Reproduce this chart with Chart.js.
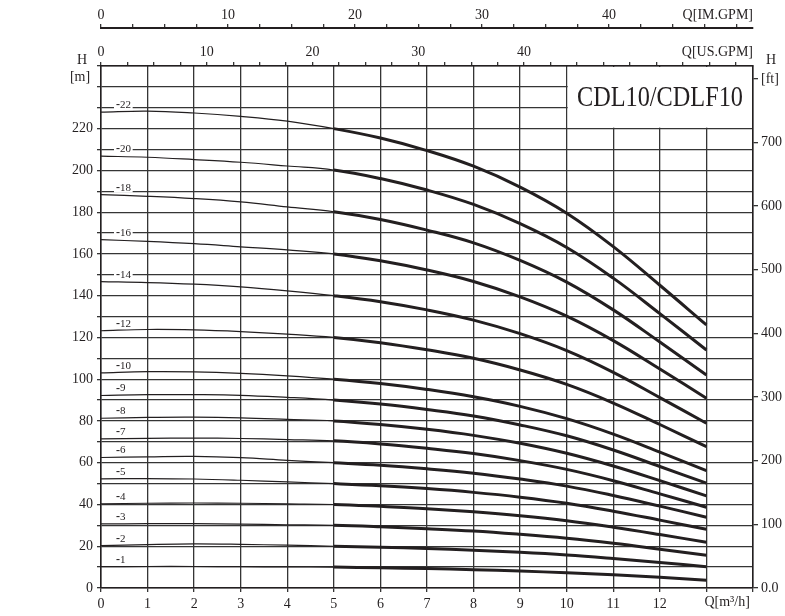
<!DOCTYPE html>
<html>
<head>
<meta charset="utf-8">
<script src="https://cdn.jsdelivr.net/npm/chart.js@4.4.1/dist/chart.umd.min.js"></script>
<style>
  body { margin: 0; background: #fff; }
  #wrap { width: 785px; height: 616px; }
</style>
</head>
<body>
<div id="wrap"><canvas id="pumpChart"></canvas></div>
<script>
// flow points, m3/h
var flow = [0, 1, 2, 3, 4, 5, 6, 7, 8, 9, 10, 11, 12, 13];

// head in m for each stage count
var head1  = [10.2, 10.3, 10.3, 10.2, 10.1, 10, 9.7, 9.3, 8.8, 8.1, 7.3, 6.3, 5.1, 3.7];
var head2  = [20.3, 20.8, 21.1, 20.9, 20.5, 20, 19.5, 18.9, 18.1, 17.1, 15.8, 14.1, 12.2, 10.2];
var head3  = [30.7, 30.8, 30.8, 30.6, 30.3, 30, 29.3, 28.4, 27.3, 25.7, 23.8, 21.4, 18.6, 15.7];
var head4  = [40.3, 40.6, 40.7, 40.6, 40.3, 40, 39.1, 38, 36.5, 34.6, 32.2, 29.1, 25.6, 21.9];
var head5  = [52.3, 52.4, 52.2, 51.6, 50.8, 50, 49, 47.6, 45.8, 43.5, 40.6, 36.8, 32.5, 28.1];
var head6  = [62.5, 62.8, 63, 62.4, 61.1, 60, 58.8, 57.1, 55, 52.2, 48.8, 44.3, 39.2, 33.9];
var head7  = [71.4, 71.7, 71.8, 71.6, 71.1, 70.5, 69, 66.9, 64.4, 61, 56.8, 51.4, 45.1, 38.7];
var head8  = [81.3, 81.7, 81.8, 81.5, 80.8, 80, 78.3, 76, 73.1, 69.3, 64.5, 58.4, 51.4, 44.1];
var head9  = [92.2, 92.6, 92.6, 92.3, 91.3, 90, 88.1, 85.5, 82.4, 78.1, 72.9, 66.1, 58.2, 50.2];
var head10 = [103, 103.6, 103.5, 102.8, 101.6, 100, 97.9, 95.1, 91.6, 87, 81.1, 73.7, 65.1, 56.2];
var head12 = [123.2, 123.8, 123.6, 122.8, 121.6, 120, 117.5, 114.1, 110, 104.4, 97.5, 88.6, 78.3, 67.7];
var head14 = [146.7, 146.3, 145.5, 144.2, 142.3, 140, 137.1, 133.2, 128.3, 121.8, 113.7, 103.3, 91.2, 78.9];
var head16 = [166.8, 166, 164.9, 163.4, 161.9, 160, 156.7, 152.3, 146.8, 139.4, 130.2, 118.5, 104.9, 90.9];
var head18 = [188.4, 187.6, 186.5, 184.9, 182.5, 180.2, 176.5, 171.4, 165.3, 156.9, 146.5, 133.2, 117.8, 102];
var head20 = [206.8, 206.3, 205.2, 203.9, 202.1, 200.2, 196.1, 190.6, 183.7, 174.5, 163.1, 148.4, 131.4, 114];
var head22 = [227.9, 228.4, 227.5, 225.9, 223.6, 220, 215.5, 209.5, 202, 192, 179.5, 163.5, 145, 126];

var stageNames = ['-1', '-2', '-3', '-4', '-5', '-6', '-7', '-8', '-9', '-10', '-12', '-14', '-16', '-18', '-20', '-22'];
var stageHeads = [head1, head2, head3, head4, head5, head6, head7, head8, head9, head10, head12, head14, head16, head18, head20, head22];

var mLabelTicks = [0, 20, 40, 60, 80, 100, 120, 140, 160, 180, 200, 220];
var ftLabelTicks = [0, 100, 200, 300, 400, 500, 600, 700];
var gpmLabelTicks = [0, 10, 20, 30, 40];
var qLabelTicks = [0, 1, 2, 3, 4, 5, 6, 7, 8, 9, 10, 11, 12];

var titleText = 'CDL10/CDLF10';

// unit conversions
var US_GPM = 4.40287;
var IM_GPM = 3.66615;
var M_TO_FT = 1 / 0.3048;
var Q_MAX = 14;
var H_MAX = 250;

var serif = '"Liberation Serif", "DejaVu Serif", serif';
var ink = '#231f20';
var gridCol = '#353535';

var datasets = [];
for (var i = 0; i < stageHeads.length; i++) {
  var pts = [];
  for (var j = 0; j < flow.length; j++) pts.push({x: flow[j], y: stageHeads[i][j]});
  datasets.push({
    label: stageNames[i],
    data: pts,
    borderColor: ink,
    borderWidth: 1.2,
    pointRadius: 0,
    fill: false,
    tension: 0.4,
    segment: {
      borderWidth: function (ctx) { return ctx.p0.parsed.x >= 5 ? 3 : 1.2; }
    }
  });
}

var extras = {
  id: 'extras',
  beforeDatasetsDraw: function (chart) {
    var c = chart.ctx, xs = chart.scales.x, ys = chart.scales.y, a = chart.chartArea;
    // white box for the model name
    c.save();
    c.fillStyle = '#fff';
    var bx = xs.getPixelForValue(10) + 1;
    var by = ys.getPixelForValue(220) - 1;
    c.fillRect(bx, a.top + 1, a.right - bx - 1, by - a.top - 1);
    c.restore();
  },
  afterDatasetsDraw: function (chart) {
    var c = chart.ctx, xs = chart.scales.x, ys = chart.scales.y, a = chart.chartArea;
    c.save();
    c.fillStyle = ink;
    c.textBaseline = 'middle';

    // stage labels near curve starts
    for (var i = 0; i < stageNames.length; i++) {
      var ly = ys.getPixelForValue(stageHeads[i][0]) - 7;
      var lx = xs.getPixelForValue(0) + 15;
      c.font = '11px ' + serif;
      var w = c.measureText(stageNames[i]).width;
      c.fillStyle = '#fff';
      c.fillRect(lx - 2, ly - 5, w + 4, 10);
      c.fillStyle = ink;
      c.font = 'bold 12px ' + serif;
      c.textAlign = 'left';
      c.fillText('-', lx, ly);
      c.font = '11px ' + serif;
      c.fillText(stageNames[i].slice(1), lx + 4, ly);
    }

    // model name
    c.font = '29px ' + serif;
    c.textAlign = 'center';
    var tw = c.measureText(titleText).width;
    c.save();
    c.translate(660, 98);
    c.scale(166 / tw, 1);
    c.fillText(titleText, 0, 0);
    c.restore();

    // axis names
    c.font = '14px ' + serif;
    c.textAlign = 'center';
    c.fillText('H', 82, 60);
    c.fillText('[m]', 80, 77);
    c.fillText('H', 771, 60);
    c.textAlign = 'right';
    c.fillText('Q[US.GPM]', a.right, 52);
    c.fillText('Q[IM.GPM]', a.right, 15);
    c.textAlign = 'left';
    c.fillText('Q[m\u00b3/h]', xs.getPixelForValue(13) - 2, 602);
    c.restore();
  }
};

function tickFont() { return {family: serif, size: 14}; }

new Chart(document.getElementById('pumpChart'), {
  type: 'line',
  data: {datasets: datasets},
  plugins: [extras],
  options: {
    responsive: true,
    maintainAspectRatio: false,
    animation: false,
    layout: {padding: 0},
    plugins: {legend: {display: false}, tooltip: {enabled: false}},
    scales: {
      x: {
        type: 'linear', position: 'bottom', min: 0, max: Q_MAX,
        ticks: {
          stepSize: 1, autoSkip: false, maxRotation: 0, padding: 4, color: ink, font: tickFont(),
          callback: function (v) { return qLabelTicks.indexOf(v) >= 0 ? String(v) : ''; }
        },
        grid: {color: gridCol, lineWidth: 1.3, tickLength: 4},
        border: {color: ink, width: 1.5},
        afterFit: function (s) { s.height = 28; }
      },
      x2: {
        type: 'linear', position: 'top', min: 0, max: Q_MAX * US_GPM, weight: 0,
        ticks: {
          stepSize: 2.5, autoSkip: false, maxRotation: 0, padding: 1, color: ink, font: tickFont(), includeBounds: false,
          callback: function (v) { return gpmLabelTicks.indexOf(v) >= 0 ? String(v) : ''; }
        },
        grid: {drawOnChartArea: false, color: gridCol, lineWidth: 1.3, tickLength: 4},
        border: {color: ink, width: 1.5},
        afterFit: function (s) { s.height = 38; }
      },
      x3: {
        type: 'linear', position: 'top', min: 0, max: Q_MAX * IM_GPM, weight: 1,
        ticks: {
          stepSize: 2.5, autoSkip: false, maxRotation: 0, padding: 0, color: ink, font: tickFont(), includeBounds: false,
          callback: function (v) { return gpmLabelTicks.indexOf(v) >= 0 ? String(v) : ''; }
        },
        grid: {drawOnChartArea: false, color: gridCol, lineWidth: 1.3, tickLength: 4},
        border: {color: ink, width: 2},
        afterFit: function (s) { s.height = 28; }
      },
      y: {
        type: 'linear', position: 'left', min: 0, max: H_MAX,
        ticks: {
          stepSize: 10, autoSkip: false, padding: 4, color: ink, font: tickFont(),
          callback: function (v) { return mLabelTicks.indexOf(v) >= 0 ? String(v) : ''; }
        },
        grid: {color: gridCol, lineWidth: 1.3, tickLength: 4},
        border: {color: ink, width: 1.5},
        afterFit: function (s) { s.width = 101; }
      },
      y2: {
        type: 'linear', position: 'right', min: 0, max: H_MAX * M_TO_FT,
        ticks: {
          stepSize: 100, autoSkip: false, padding: 3, color: ink, font: tickFont(), includeBounds: false,
          callback: function (v) {
            if (v === 0) return '0.0';
            if (v === 800) return '[ft]';
            return ftLabelTicks.indexOf(v) >= 0 ? String(v) : '';
          }
        },
        grid: {drawOnChartArea: false, color: gridCol, lineWidth: 1.3, tickLength: 5},
        border: {color: ink, width: 1.5},
        afterFit: function (s) { s.width = 32; }
      }
    }
  }
});
</script>
</body>
</html>
